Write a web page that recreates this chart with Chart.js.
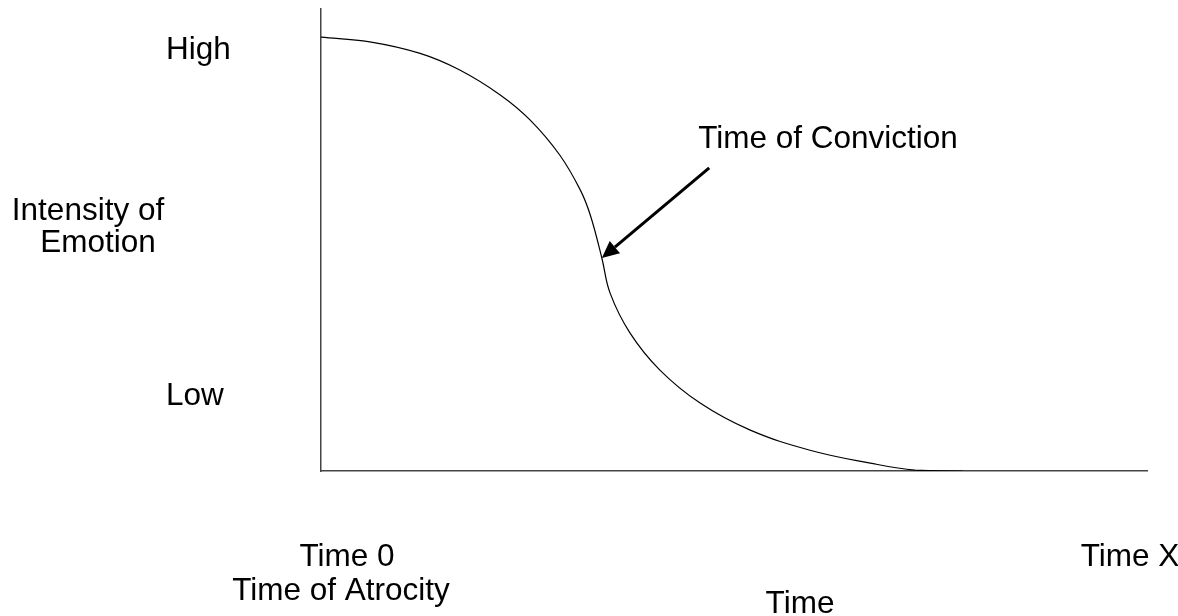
<!DOCTYPE html>
<html>
<head>
<meta charset="utf-8">
<script src="https://cdn.jsdelivr.net/npm/chart.js@4"></script>
<style>
  body { margin: 0; background: #fff; }
  #wrap { width: 1178px; height: 616px; position: relative; }
</style>
</head>
<body>
<div id="wrap"><canvas id="myChart"></canvas></div>
<script>
// curve (time 0..100, intensity 0..100)
const curveX = [0, 5.9, 12.0, 16.8, 21.7, 25.3, 28.9, 31.4, 32.6, 34.0, 35.0, 37.4, 41.0, 45.9, 51.9, 59.2, 66.5, 71.9, 77.7];
const curveY = [93.9, 92.9, 90.4, 86.8, 81.4, 76.0, 68.4, 60.8, 55.4, 46.1, 38.5, 29.9, 21.9, 14.7, 8.9, 4.5, 1.7, 0.2, 0];

// y tick labels
const yTickValues = [16.2, 91.0];
const yTickLabels = ['Low', 'High'];

// arrow pointing at the time of conviction
const arrowFrom = [47.0, 65.6];
const arrowTo = [34.0, 46.1];
const arrowLabel = 'Time of Conviction';

const xStartLabel = ['Time 0', 'Time of Atrocity'];
const xEndLabel = 'Time X';
const xTitle = 'Time';
const yTitle = ['Intensity of', 'Emotion'];

const FAMILY = '"Liberation Sans", Arial, sans-serif';
const FONT = '31.5px ' + FAMILY;

const points = curveX.map(function (x, i) { return { x: x, y: curveY[i] }; });

// draws the arrow and the free text
const notes = {
    id: 'notes',
    afterDatasetsDraw: function (chart) {
        const ctx = chart.ctx;
        const xs = chart.scales.x, ys = chart.scales.y;
        const x1 = xs.getPixelForValue(arrowFrom[0]), y1 = ys.getPixelForValue(arrowFrom[1]);
        const x2 = xs.getPixelForValue(arrowTo[0]), y2 = ys.getPixelForValue(arrowTo[1]);
        const ang = Math.atan2(y2 - y1, x2 - x1);
        const headLen = 17, headW = 8;
        const bx = x2 - headLen * Math.cos(ang), by = y2 - headLen * Math.sin(ang);

        ctx.save();
        ctx.strokeStyle = '#000';
        ctx.fillStyle = '#000';
        ctx.lineWidth = 3;
        ctx.beginPath();
        ctx.moveTo(x1, y1);
        ctx.lineTo(bx, by);
        ctx.stroke();
        ctx.beginPath();
        ctx.moveTo(x2, y2);
        ctx.lineTo(bx + headW * Math.sin(ang), by - headW * Math.cos(ang));
        ctx.lineTo(bx - headW * Math.sin(ang), by + headW * Math.cos(ang));
        ctx.closePath();
        ctx.fill();

        ctx.font = FONT;
        ctx.textBaseline = 'middle';
        ctx.textAlign = 'center';
        ctx.fillText(arrowLabel, 828, 139);

        ctx.fillText(xStartLabel[0], 347, 557);
        ctx.fillText(xStartLabel[1], 341, 591);
        ctx.fillText(xEndLabel, 1130, 557);
        ctx.fillText(xTitle, 800, 604);

        ctx.fillText(yTitle[0], 88, 211);
        ctx.fillText(yTitle[1], 98, 243);
        ctx.restore();
    }
};

const ctx = document.getElementById('myChart');
const myChart = new Chart(ctx, {
    type: 'line',
    data: {
        datasets: [{
            label: 'Intensity of Emotion',
            data: points,
            borderColor: '#000',
            borderWidth: 1.2,
            pointRadius: 0,
            tension: 0.4,
            fill: false
        }]
    },
    options: {
        responsive: true,
        maintainAspectRatio: false,
        animation: false,
        layout: { padding: { left: 166, right: 31, top: 9, bottom: 0 } },
        plugins: {
            legend: { display: false },
            tooltip: { enabled: false }
        },
        scales: {
            x: {
                type: 'linear',
                min: 0,
                max: 100,
                grid: { display: false },
                border: { display: true, color: '#444', width: 1.5 },
                ticks: { display: false },
                afterFit: function (scale) {
                    scale.height = 145;
                    scale.paddingLeft = 0; scale.paddingRight = 0;
                }
            },
            y: {
                type: 'linear',
                min: 0,
                max: 100,
                grid: { display: false, drawTicks: false },
                border: { display: true, color: '#444', width: 1.5 },
                afterBuildTicks: function (scale) {
                    scale.ticks = yTickValues.map(function (v) { return { value: v }; });
                },
                ticks: {
                    crossAlign: 'far',
                    color: '#000',
                    font: { family: FAMILY, size: 31.5 },
                    callback: function (value) {
                        return yTickLabels[yTickValues.indexOf(value)];
                    }
                },
                afterFit: function (scale) {
                    scale.width = 155;
                    scale.paddingTop = 0; scale.paddingBottom = 0;
                }
            }
        }
    },
    plugins: [notes]
});
</script>
</body>
</html>
